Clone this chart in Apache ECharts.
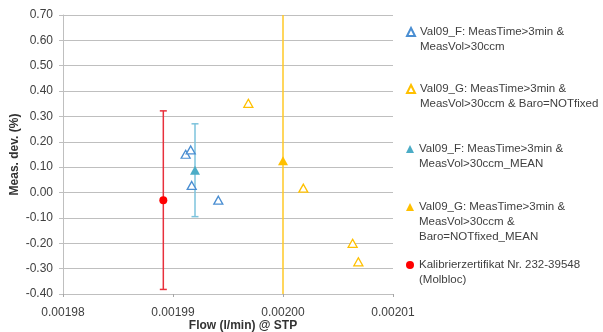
<!DOCTYPE html>
<html><head><meta charset="utf-8">
<script src="https://cdn.jsdelivr.net/npm/echarts@6/dist/echarts.min.js"></script>
<style>html,body{margin:0;padding:0;background:#fff}#c{width:603px;height:332px}</style>
</head><body><div id="c"></div>
<script>
// ---- data ----
const seriesNames = [
  'Val09_F: MeasTime>3min &\nMeasVol>30ccm',
  'Val09_G: MeasTime>3min &\nMeasVol>30ccm & Baro=NOTfixed',
  'Val09_F: MeasTime>3min &\nMeasVol>30ccm_MEAN',
  'Val09_G: MeasTime>3min &\nMeasVol>30ccm &\nBaro=NOTfixed_MEAN',
  'Kalibrierzertifikat Nr. 232-39548\n(Molbloc)'
];
const valF = [[0.00199115, 0.151], [0.00199161, 0.168], [0.00199170, 0.028], [0.00199412, -0.030]];
const valG = [[0.00199685, 0.352], [0.00200185, 0.017], [0.00200633, -0.200], [0.00200685, -0.273]];
const valFMean = [[0.00199200, 0.088]];
const valGMean = [[0.00200000, 0.125]];
const kalib = [[0.00198912, -0.030]];
const errFMean = [0.183];
const errGMean = [1.0];
const errKalib = [0.352];
const yMin = -0.4, yMax = 0.7, yStep = 0.1;
const xMin = 0.00198, xMax = 0.00201, xStep = 0.00001;

const FONT = 'Liberation Sans';
const blue = '#4A8ED2', teal = '#4BACC6', tealErr = '#7CC3DC';
const gold = '#FFC000', goldErr = '#FFC926', red = '#FF0000', redErr = '#E8303C';

function errData(pts, errs) {
  return pts.map((p, i) => [p[0], p[1] - errs[i], p[1] + errs[i]]);
}
function errSeries(pts, errs, color) {
  return {
    type: 'custom', silent: true, z: 1,
    data: errData(pts, errs),
    renderItem: function (params, api) {
      const cs = params.coordSys;
      const x = api.coord([api.value(0), 0])[0];
      let y1 = api.coord([api.value(0), api.value(1)])[1];
      let y2 = api.coord([api.value(0), api.value(2)])[1];
      const top = cs.y, bot = cs.y + cs.height;
      const children = [];
      const c1 = y1 > bot, c2 = y2 < top;
      const yy1 = Math.min(y1, bot), yy2 = Math.max(y2, top);
      children.push({type: 'line', shape: {x1: x, y1: yy1, x2: x, y2: yy2}, style: {stroke: color, lineWidth: 1.5}});
      if (!c1) children.push({type: 'line', shape: {x1: x - 3.5, y1: yy1, x2: x + 3.5, y2: yy1}, style: {stroke: color, lineWidth: 1.5}});
      if (!c2) children.push({type: 'line', shape: {x1: x - 3.5, y1: yy2, x2: x + 3.5, y2: yy2}, style: {stroke: color, lineWidth: 1.5}});
      return {type: 'group', children: children};
    }
  };
}

const lineCounts = seriesNames.map(n => n.split('\n').length);
const firstLineY = [32, 89, 149, 207, 265];
const LH = 15;
const icons = ['triangle', 'triangle', 'triangle', 'triangle', 'circle'];
const legends = seriesNames.map((n, i) => {
  const k = lineCounts[i] - 1;
  return {
    left: 406, top: firstLineY[i] - k * LH - LH / 2, orient: 'vertical',
    itemWidth: 8, itemHeight: 8, selectedMode: false, padding: 0,
    data: [{name: n, icon: icons[i]}],
    formatter: function (name) { return '\n'.repeat(k) + name; },
    textStyle: {fontFamily: FONT, fontSize: 11.5, color: '#404040', lineHeight: LH}
  };
});

const chart = echarts.init(document.getElementById('c'));
chart.setOption({
  animation: false,
  grid: {left: 63, right: 210, top: 15, bottom: 38, containLabel: false, outerBoundsMode: 'none'},
  legend: legends,
  xAxis: [{
    type: 'value', min: xMin, max: xMax, interval: xStep,
    axisLine: {show: false}, axisTick: {show: false}, splitLine: {show: false},
    axisLabel: {fontFamily: FONT, fontSize: 12, color: '#404040', margin: 13,
      formatter: v => v.toFixed(5)}
  }, {
    type: 'value', min: xMin, max: xMax, interval: xStep, position: 'bottom',
    axisLine: {show: true, onZero: true, lineStyle: {color: '#BFBFBF', width: 1}},
    axisTick: {show: true, length: 3, lineStyle: {color: '#A6A6A6'}},
    axisLabel: {show: false}, splitLine: {show: false}
  }],
  yAxis: {
    type: 'value', min: yMin, max: yMax, interval: yStep,
    name: 'Meas. dev. (%)', nameLocation: 'middle', nameGap: 42, nameMoveOverlap: false,
    nameTextStyle: {fontFamily: FONT, fontSize: 12, fontWeight: 'bold', color: '#333'},
    axisLine: {show: true, lineStyle: {color: '#BFBFBF', width: 1}},
    axisTick: {show: true, length: 4, lineStyle: {color: '#BFBFBF'}},
    splitLine: {show: true, lineStyle: {color: '#BFBFBF', width: 1}},
    axisLabel: {fontFamily: FONT, fontSize: 12, color: '#404040', margin: 10,
      formatter: v => v.toFixed(2)}
  },
  graphic: [{
    type: 'text', x: 243, y: 326,
    style: {text: 'Flow (l/min) @ STP', fontFamily: FONT, fontSize: 12, fontWeight: 'bold',
      fill: '#333', align: 'center', verticalAlign: 'middle'}
  }],
  series: [
    errSeries(valFMean, errFMean, tealErr),
    errSeries(valGMean, errGMean, goldErr),
    errSeries(kalib, errKalib, redErr),
    {name: seriesNames[0], type: 'scatter', data: valF, symbol: 'triangle', symbolSize: [9, 8], z: 3,
      itemStyle: {color: '#fff', borderColor: blue, borderWidth: 1.3, opacity: 1}},
    {name: seriesNames[1], type: 'scatter', data: valG, symbol: 'triangle', symbolSize: [9, 8], z: 3,
      itemStyle: {color: '#fff', borderColor: gold, borderWidth: 1.3, opacity: 1}},
    {name: seriesNames[2], type: 'scatter', data: valFMean, symbol: 'triangle', symbolSize: [10, 9], z: 4,
      itemStyle: {color: teal, opacity: 1}},
    {name: seriesNames[3], type: 'scatter', data: valGMean, symbol: 'triangle', symbolSize: [10, 9], z: 4,
      itemStyle: {color: gold, opacity: 1}},
    {name: seriesNames[4], type: 'scatter', data: kalib, symbol: 'circle', symbolSize: 8, z: 4,
      itemStyle: {color: red, opacity: 1}}
  ]
});
</script></body></html>
